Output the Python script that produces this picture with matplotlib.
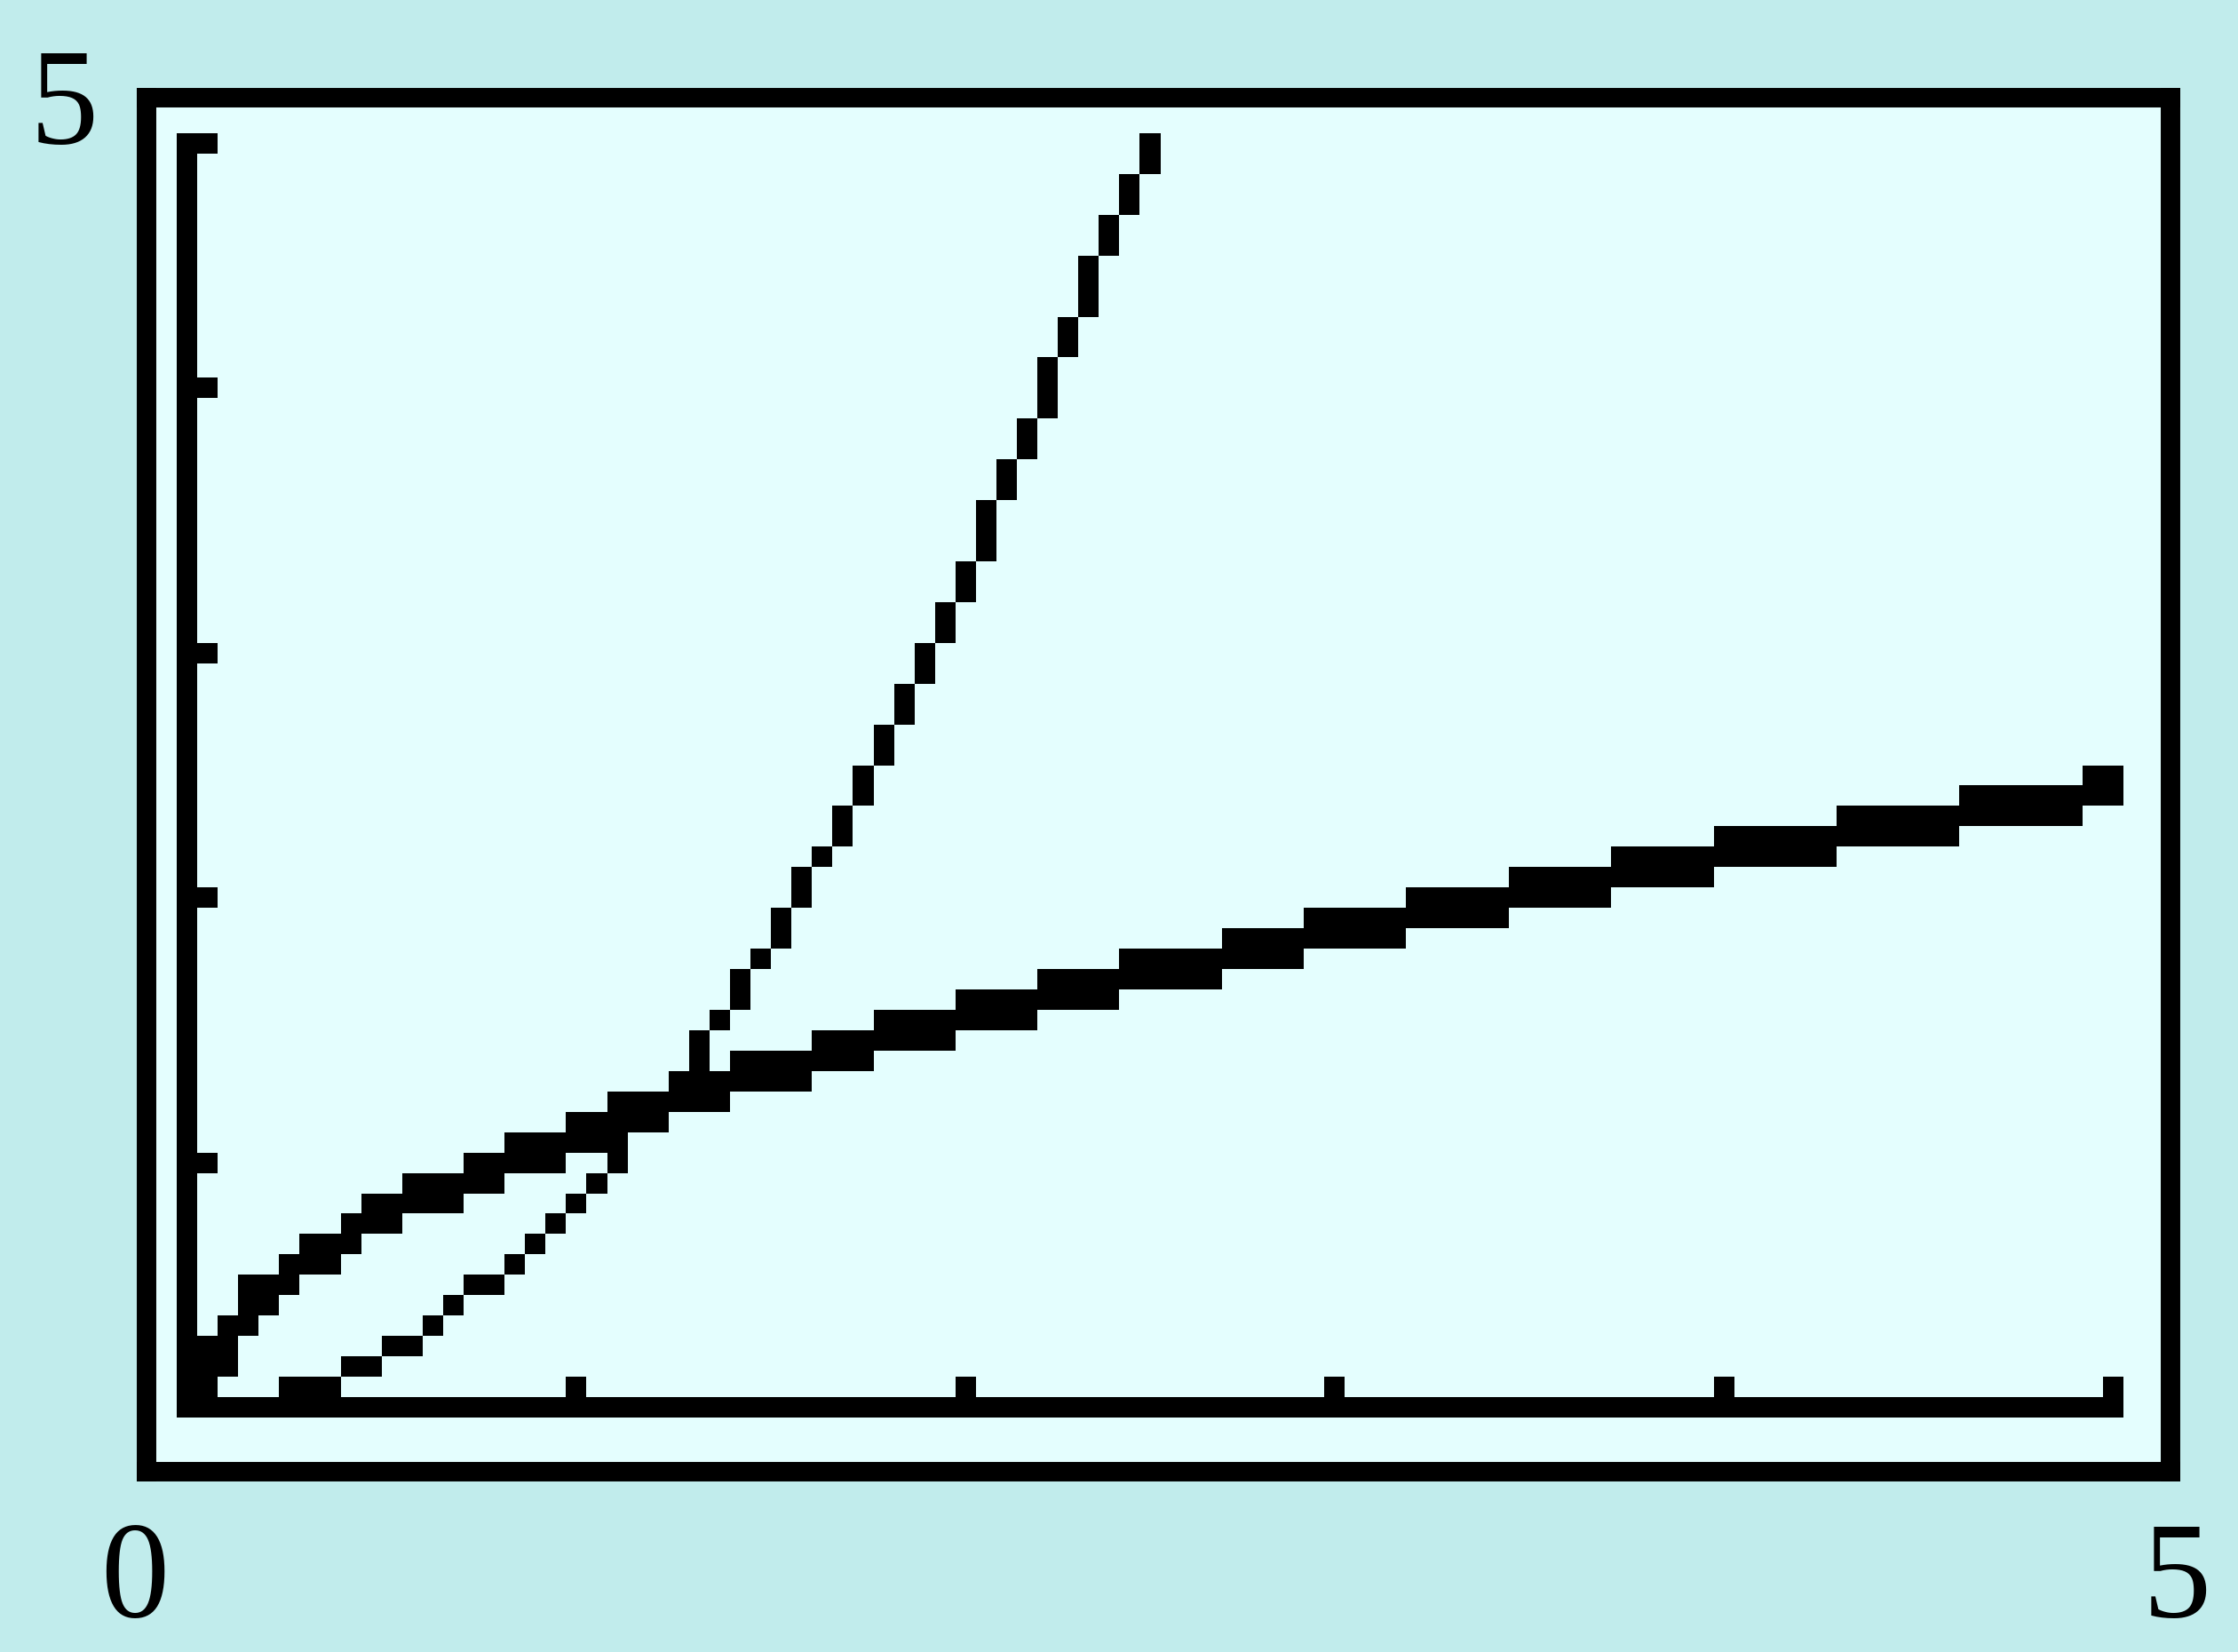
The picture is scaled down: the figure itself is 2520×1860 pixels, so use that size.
import matplotlib
matplotlib.use("Agg")
import matplotlib.pyplot as plt

# calculator window and screen resolution (95 x 63 pixels)
x_min, x_max = 0, 5
y_min, y_max = 0, 5
n_cols, n_rows = 95, 63

# tick marks every 1 unit on both axes
x_ticks = [1, 2, 3, 4, 5]
y_ticks = [1, 2, 3, 4, 5]

# slow-growing curve: runs of screen pixels (first col, last col, low row, high row)
slow_col_start = [1, 2, 3, 4, 5, 6, 8, 9, 11, 14, 16, 19, 21, 24, 27, 31, 34, 38,
                  42, 46, 51, 55, 60, 65, 70, 75, 81, 87, 93]
slow_col_end = [1, 2, 3, 4, 5, 7, 8, 10, 13, 15, 18, 20, 23, 26, 30, 33, 37, 41,
                45, 50, 54, 59, 64, 69, 74, 80, 86, 92, 94]
slow_row_lo = [1, 2, 4, 5, 6, 7, 8, 9, 10, 11, 12, 13, 14, 15, 16, 17, 18, 19,
               20, 21, 22, 23, 24, 25, 26, 27, 28, 29, 30]
slow_row_hi = [3, 4, 6, 6, 7, 8, 9, 10, 11, 12, 13, 14, 15, 16, 17, 18, 19, 20,
               21, 22, 23, 24, 25, 26, 27, 28, 29, 30, 31]

# fast-growing curve: one screen column each (col, low row, high row)
fast_col = list(range(5, 48))
fast_row_lo = [1, 1, 1, 2, 2, 3, 3, 4, 5, 6, 6, 7, 8, 9, 10, 11, 12, 14, 15, 16,
               17, 19, 20, 22, 23, 25, 27, 28, 30, 32, 34, 36, 38, 40, 42, 45,
               47, 49, 52, 54, 57, 59, 61]
fast_row_hi = [1, 1, 1, 2, 2, 3, 3, 4, 5, 6, 6, 7, 8, 9, 10, 11, 13, 14, 15, 16,
               18, 19, 21, 22, 24, 26, 27, 29, 31, 33, 35, 37, 39, 41, 44, 46,
               48, 51, 53, 56, 58, 60, 62]

outer_bg = "#c1ecec"
screen_bg = "#e4fefe"

dx = (x_max - x_min) / (n_cols - 1)
dy = (y_max - y_min) / (n_rows - 1)


def pix_block(ax, c0, c1, r0, r1):
    # fill screen pixels c0..c1, r0..r1 through the data axes
    ax.bar(x_min + (c0 - 0.5) * dx, (r1 - r0 + 1) * dy,
           width=(c1 - c0 + 1) * dx, bottom=y_min + (r0 - 0.5) * dy,
           align="edge", color="black", linewidth=0)


fig = plt.figure(figsize=(25.2, 18.6), dpi=100, facecolor=outer_bg)

# screen frame
frame = fig.add_axes([0.0655, 0.1094, 0.9042, 0.8312])
frame.set_facecolor(screen_bg)
frame.set_xticks([])
frame.set_yticks([])
for s in frame.spines.values():
    s.set_linewidth(15.8)
    s.set_color("black")

# pixel screen
ax = fig.add_axes([0.07897, 0.14194, 0.86984, 0.77742])
ax.set_xlim(x_min - 0.5 * dx, x_max + 0.5 * dx)
ax.set_ylim(y_min - 0.5 * dy, y_max + 0.5 * dy)
ax.patch.set_alpha(0)
ax.axis("off")

# axes lines
pix_block(ax, 0, 0, 0, n_rows - 1)
pix_block(ax, 0, n_cols - 1, 0, 0)
for t in x_ticks:
    c = round((t - x_min) / dx)
    pix_block(ax, c, c, 1, 1)
for t in y_ticks:
    r = round((t - y_min) / dy)
    pix_block(ax, 1, 1, r, r)

# curves
for c0, c1, r0, r1 in zip(slow_col_start, slow_col_end, slow_row_lo, slow_row_hi):
    pix_block(ax, c0, c1, r0, r1)
for c, r0, r1 in zip(fast_col, fast_row_lo, fast_row_hi):
    pix_block(ax, c, c, r0, r1)

# window labels
lab = dict(family="Liberation Serif", fontsize=111, ha="center", va="baseline")
fig.text(72 / 2520, 1 - 161 / 1860, str(y_max), **lab)
fig.text(152 / 2520, 1 - 1820 / 1860, str(x_min), **lab)
fig.text(2451 / 2520, 1 - 1820 / 1860, str(x_max), **lab)

fig.savefig("out.png", dpi=100, facecolor=outer_bg)
